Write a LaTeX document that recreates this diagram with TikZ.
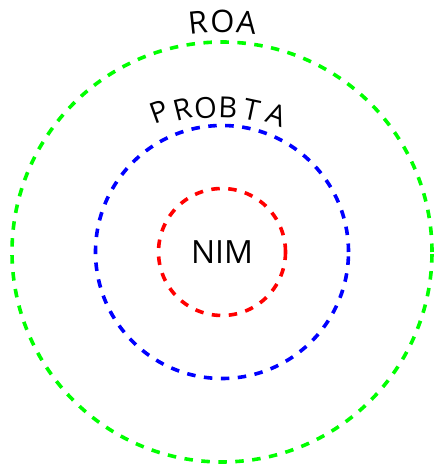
\documentclass[tikz,border=0pt]{standalone}
\usepackage{fontspec}
\setmainfont{Open Sans}
\begin{document}
\begin{tikzpicture}[x=1pt,y=1pt,
  ring/.style={line width=3.6pt, dash pattern=on 8.5pt off 8.5pt},
  roaletter/.style={font=\fontsize{31}{34}\selectfont, anchor=base, inner sep=0pt},
  pbletter/.style={font=\fontsize{29}{32}\selectfont, anchor=base, inner sep=0pt}]
\useasboundingbox (0,0) rectangle (433,465);
\coordinate (c) at (222,213);
\draw[ring, green] (c) circle[radius=210];
\draw[ring, blue] (c) circle[radius=126.5];
\draw[ring, red] (c) circle[radius=63.5];
\node[font=\fontsize{32}{35}\selectfont, inner sep=0pt] (nim) at (c) {NIM};
% ROA along the outer ring
\node[roaletter, rotate=6] (roa1) at (199,431) {R};
\node[roaletter] (roa2) at (222.5,432) {O};
\node[roaletter, rotate=-6] (roa3) at (245.5,431) {A};
% PROBTA along the middle ring
\node[pbletter, rotate=20] (pb1) at (163,343) {P};
\node[pbletter, rotate=14] (pb2) at (185.5,346) {R};
\node[pbletter, rotate=6] (pb3) at (206.5,347) {O};
\node[pbletter, rotate=-2] (pb4) at (227.5,347) {B};
\node[pbletter, rotate=-12] (pb5) at (249.5,344.5) {T};
\node[pbletter, rotate=-20] (pb6) at (273.5,340.5) {A};
\end{tikzpicture}
\end{document}
